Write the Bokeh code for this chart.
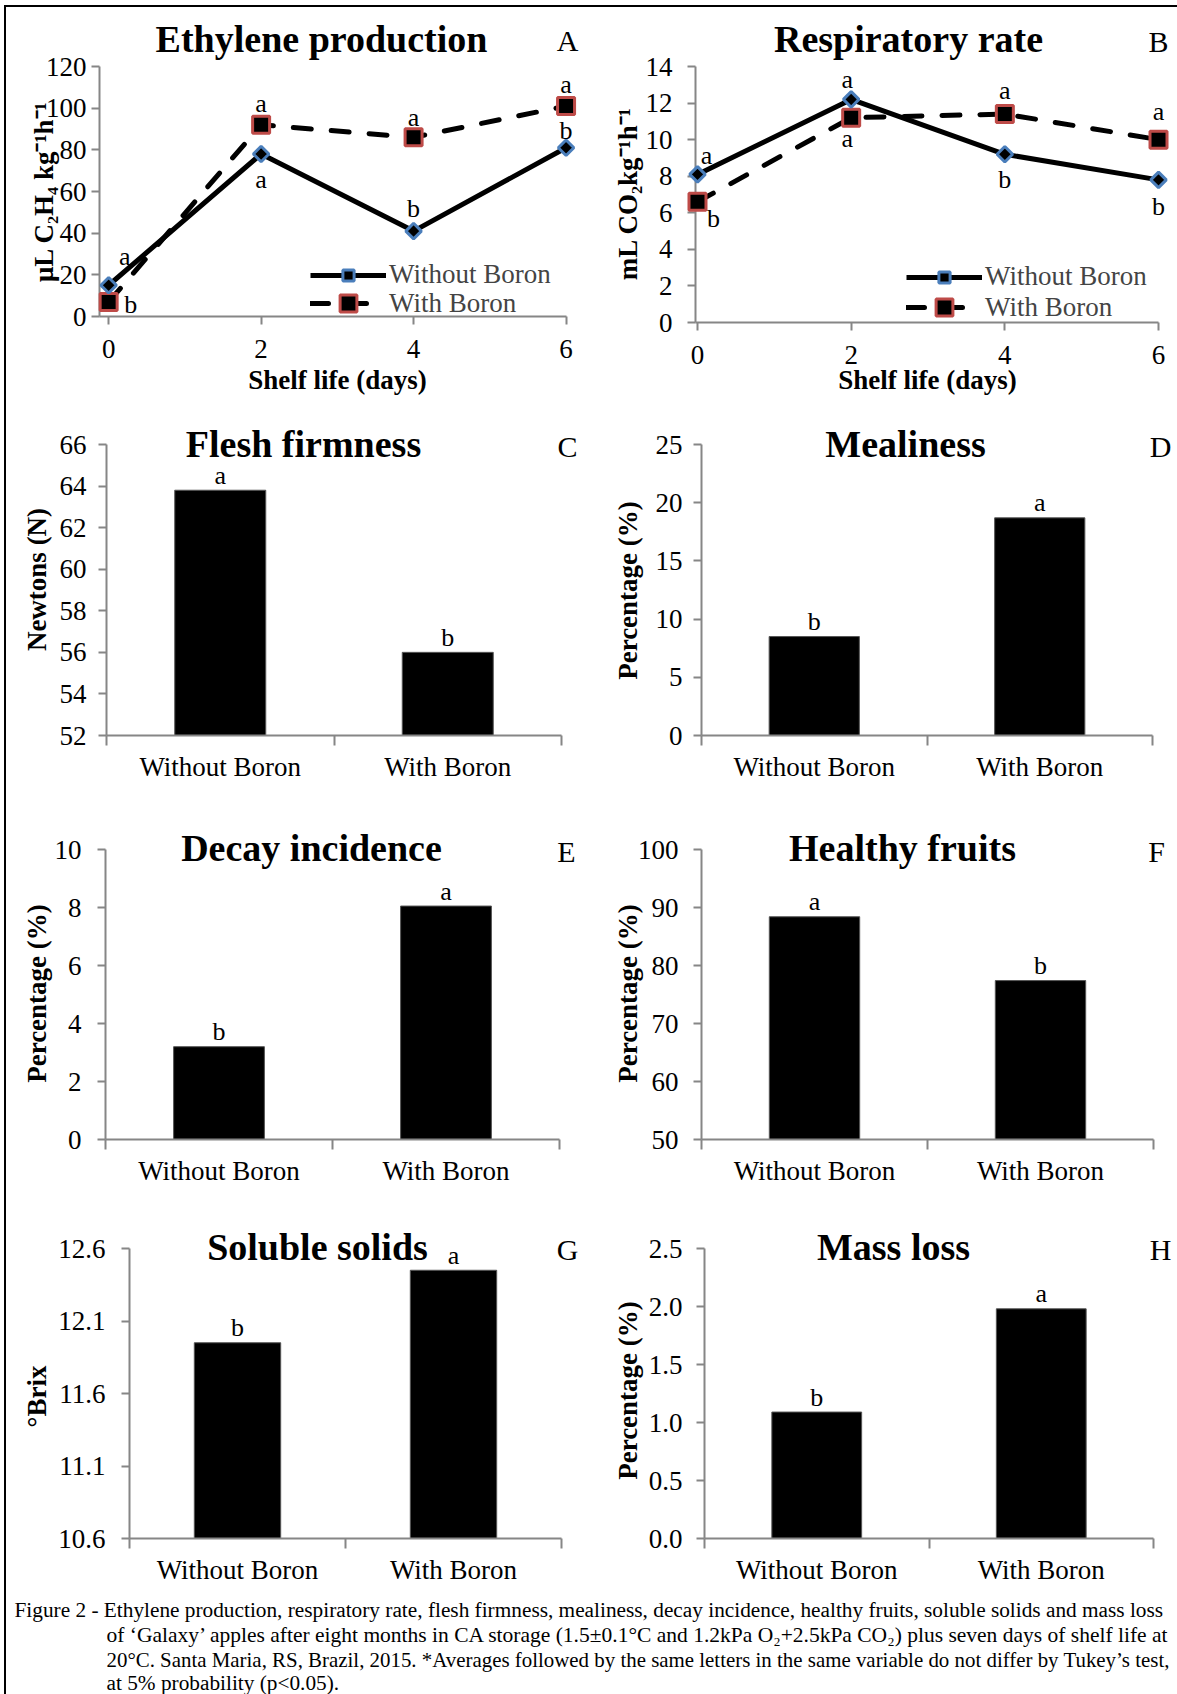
import math
from bokeh.plotting import figure
from bokeh.models import (Range1d, FixedTicker, Label, LabelSet, ColumnDataSource,
                          Legend, LegendItem, PrintfTickFormatter)
from bokeh.layouts import row, column
from bokeh.embed import file_html
from bokeh.resources import INLINE
from bokeh.core.properties import value

# ---------------- data ----------------
days = [0, 2, 4, 6]
day_ticks = [0, 2, 4, 6]
series_names = ["Without Boron", "With Boron"]

ethylene_without = [15, 78, 41, 81]
ethylene_with = [7, 92, 86, 101]
ethylene_sig_without = ["a", "a", "b", "b"]
ethylene_sig_with = ["b", "a", "a", "a"]
ethylene_ticks = [0, 20, 40, 60, 80, 100, 120]

resp_without = [8.1, 12.2, 9.2, 7.8]
resp_with = [6.6, 11.2, 11.4, 10.0]
resp_sig_without = ["a", "a", "b", "b"]
resp_sig_with = ["b", "a", "a", "a"]
resp_ticks = [0, 2, 4, 6, 8, 10, 12, 14]

treatments = ["Without Boron", "With Boron"]
firmness = [63.8, 56.0]
firmness_sig = ["a", "b"]
firmness_ticks = [52, 54, 56, 58, 60, 62, 64, 66]
mealiness = [8.5, 18.7]
mealiness_sig = ["b", "a"]
mealiness_ticks = [0, 5, 10, 15, 20, 25]
decay = [3.2, 8.05]
decay_sig = ["b", "a"]
decay_ticks = [0, 2, 4, 6, 8, 10]
healthy = [88.4, 77.4]
healthy_sig = ["a", "b"]
healthy_ticks = [50, 60, 70, 80, 90, 100]
soluble = [11.95, 12.45]
soluble_sig = ["b", "a"]
soluble_ticks = [10.6, 11.1, 11.6, 12.1, 12.6]
massloss = [1.09, 1.98]
massloss_sig = ["b", "a"]
massloss_ticks = [0.0, 0.5, 1.0, 1.5, 2.0, 2.5]

caption_lines = [
    "Figure 2 - Ethylene production, respiratory rate, flesh firmness, mealiness, decay incidence, healthy fruits, soluble solids and mass loss",
    "of \u2018Galaxy\u2019 apples after eight months in CA storage (1.5\u00b10.1\u00b0C and 1.2kPa O\u2082+2.5kPa CO\u2082) plus seven days of shelf life at",
    "20\u00b0C. Santa Maria, RS, Brazil, 2015. *Averages followed by the same letters in the same variable do not differ by Tukey\u2019s test,",
    "at 5% probability (p<0.05).",
]

# ---------------- style ----------------
SERIF = "Liberation Serif"
GRAY = "#868686"
BLUE = "#4a7ebb"
RED = "#be4b48"


def panel(box, frame, xr, yr, ystand):
    fx, fy, fw, fh = box
    L, R, T, B = frame
    p = figure(width=fw, height=fh, x_range=Range1d(*xr), y_range=Range1d(*yr),
               min_border_left=L - fx, min_border_right=fx + fw - R,
               min_border_top=T - fy, min_border_bottom=fy + fh - B,
               output_backend="svg", toolbar_location=None)
    try:
        p.frame_align = False
    except Exception:
        pass
    p.outline_line_color = None
    p.grid.visible = False
    p.background_fill_color = "white"
    p.border_fill_color = "white"
    for ax in (p.xaxis[0], p.yaxis[0]):
        ax.axis_line_color = GRAY
        ax.axis_line_width = 2
        ax.major_tick_line_color = GRAY
        ax.major_tick_line_width = 2
        ax.major_tick_in = 0
        ax.major_tick_out = 8
        ax.minor_tick_line_color = None
        ax.major_label_text_font = SERIF
        ax.major_label_text_font_size = "27px"
        ax.major_label_text_color = "black"
    p.yaxis.major_label_standoff = ystand

    def at(px, py):
        return (xr[0] + (px - L) / (R - L) * (xr[1] - xr[0]),
                yr[1] - (py - T) / (B - T) * (yr[1] - yr[0]))
    return p, at


def text(p, at, pos, s, size, bold=False, angle=0.0):
    x, y = at(*pos)
    p.text(x=[x], y=[y], text=[s], text_font=value(SERIF), text_font_size=value(f"{size}px"),
           text_font_style="bold" if bold else "normal",
           text_align="center", text_baseline="middle",
           angle=angle, text_color="black", level="overlay")


def decorate(p, at, title, title_pos, letter, letter_pos, ylabel, ylabel_pos):
    text(p, at, title_pos, title, 38, bold=True)
    text(p, at, letter_pos, letter, 30)
    text(p, at, ylabel_pos, ylabel, 27, bold=True, angle=math.pi / 2)


def one_legend(p, label, renderers, loc, gh):
    p.add_layout(Legend(items=[LegendItem(label=label, renderers=renderers)],
                        location=loc, orientation="vertical",
                        glyph_width=76, glyph_height=gh, label_height=gh,
                        label_standoff=3, spacing=0, padding=0, margin=0,
                        border_line_color=None, background_fill_alpha=0,
                        label_text_font=SERIF, label_text_font_size="27px",
                        label_text_baseline="middle", level="overlay"))


def line_panel(box, frame, xr, yr, ystand, yticks, w_vals, b_vals, w_sig, b_sig,
               w_off, b_off, leg_locs, title, title_pos, letter, letter_pos,
               ylabel, ylabel_pos, xlabel_pos):
    p, at = panel(box, frame, xr, yr, ystand)
    p.xaxis.ticker = FixedTicker(ticks=day_ticks)
    p.xaxis.bounds = (xr[0], day_ticks[-1])
    p.xaxis.major_label_standoff = 15
    p.yaxis.ticker = FixedTicker(ticks=yticks)

    l2 = p.line(days, b_vals, line_color="black", line_width=5, line_dash="18 20",
                line_cap="round", level="overlay")
    l1 = p.line(days, w_vals, line_color="black", line_width=5, level="overlay")
    m2 = p.scatter(days, b_vals, marker="square", size=17, fill_color="black",
                   line_color=RED, line_width=3, level="overlay")
    m1 = p.scatter(days, w_vals, marker="square", angle=math.pi / 4, size=11,
                   fill_color="black", line_color=BLUE, line_width=3, level="overlay")

    one_legend(p, series_names[0], [l1, m1], leg_locs[0], 28)
    one_legend(p, series_names[1], [l2, m2], leg_locs[1], 42)

    src = ColumnDataSource(dict(x=days + days, y=w_vals + b_vals, t=w_sig + b_sig,
                                dx=[o[0] for o in w_off + b_off],
                                dy=[o[1] for o in w_off + b_off]))
    p.add_layout(LabelSet(x="x", y="y", text="t", x_offset="dx", y_offset="dy",
                          source=src, text_font=value(SERIF), text_font_size=value("26px"),
                          text_align="center", text_baseline="middle", text_color="black",
                          level="overlay"))
    decorate(p, at, title, title_pos, letter, letter_pos, ylabel, ylabel_pos)
    text(p, at, xlabel_pos, "Shelf life (days)", 27, bold=True)
    return p


def bar_panel(box, frame, yr, ystand, yticks, vals, sig, title, title_pos, letter,
              letter_pos, ylabel, ylabel_pos, fmt=None):
    n = len(treatments)
    p, at = panel(box, frame, (0, n), yr, ystand)
    xs = [i + 0.5 for i in range(n)]
    p.vbar(x=xs, top=vals, bottom=yr[0], width=0.4, fill_color="black",
           line_color="#555555", line_width=1)
    p.xaxis.ticker = FixedTicker(ticks=xs, minor_ticks=list(range(n + 1)))
    p.xaxis.major_label_overrides = {x: t for x, t in zip(xs, treatments)}
    p.xaxis.major_tick_out = 0
    p.xaxis.major_tick_line_color = None
    p.xaxis.minor_tick_line_color = GRAY
    p.xaxis.minor_tick_line_width = 2
    p.xaxis.minor_tick_out = 10
    p.xaxis.minor_tick_in = 0
    p.xaxis.major_label_standoff = 6
    p.yaxis.ticker = FixedTicker(ticks=yticks)
    if fmt:
        p.yaxis.formatter = PrintfTickFormatter(format=fmt)
    src = ColumnDataSource(dict(x=xs, y=vals, t=sig))
    p.add_layout(LabelSet(x="x", y="y", text="t", y_offset=15, source=src,
                          text_font=value(SERIF), text_font_size=value("26px"),
                          text_align="center", text_baseline="middle", text_color="black",
                          level="overlay"))
    decorate(p, at, title, title_pos, letter, letter_pos, ylabel, ylabel_pos)
    return p


pA = line_panel((6, 7, 584, 393), (99, 577, 66, 316), (-0.12, 6.15), (0, 120), 5,
                ethylene_ticks, ethylene_without, ethylene_with,
                ethylene_sig_without, ethylene_sig_with,
                [(16, 29), (0, -25), (0, 23), (0, 17)],
                [(22, -3), (0, 21), (0, 20), (0, 22)],
                [(211, 26), (211, -8)], "Ethylene production", (321, 38), "A", (567, 40),
                "\u03bcL C\u2082H\u2084 kg\u207b\u00b9h\u207b\u00b9", (43, 191), (337, 379))

pB = line_panel((590, 7, 587, 393), (695, 1169, 66, 322), (-0.026, 6.143), (0, 14), 15,
                resp_ticks, resp_without, resp_with,
                resp_sig_without, resp_sig_with,
                [(9, 19), (-4, 20), (0, -25), (0, -27)],
                [(16, -17), (-4, -21), (0, 24), (0, 28)],
                [(211, 30), (211, -6)], "Respiratory rate", (908, 38), "B", (1158, 41),
                "mL CO\u2082kg\u207b\u00b9h\u207b\u00b9", (627, 193), (927, 379))

pC = bar_panel((6, 400, 584, 400), (106, 561, 444, 735), (52, 66), 12, firmness_ticks,
               firmness, firmness_sig, "Flesh firmness", (303, 443), "C", (567, 446),
               "Newtons (N)", (36, 579))
pD = bar_panel((590, 400, 587, 400), (701, 1152, 444, 735), (0, 25), 11, mealiness_ticks,
               mealiness, mealiness_sig, "Mealiness", (905, 443), "D", (1160, 446),
               "Percentage (%)", (627, 590))
pE = bar_panel((6, 800, 584, 400), (105, 559, 849, 1139), (0, 10), 16, decay_ticks,
               decay, decay_sig, "Decay incidence", (311, 847), "E", (566, 851),
               "Percentage (%)", (36, 993))
pF = bar_panel((590, 800, 587, 400), (701, 1153, 849, 1139), (50, 100), 15, healthy_ticks,
               healthy, healthy_sig, "Healthy fruits", (902, 847), "F", (1156, 851),
               "Percentage (%)", (627, 993))
pG = bar_panel((6, 1200, 584, 392), (129, 561, 1248, 1538), (10.6, 12.6), 16, soluble_ticks,
               soluble, soluble_sig, "Soluble solids", (317, 1246), "G", (567, 1249),
               "\u00b0Brix", (36, 1396), fmt="%.1f")
pH = bar_panel((590, 1200, 587, 392), (704, 1153, 1248, 1538), (0, 2.5), 14, massloss_ticks,
               massloss, massloss_sig, "Mass loss", (893, 1246), "H", (1160, 1249),
               "Percentage (%)", (627, 1390), fmt="%.1f")

# caption
cap = figure(width=1171, height=102, x_range=Range1d(0, 1171), y_range=Range1d(102, 0),
             min_border=0, output_backend="svg", toolbar_location=None,
             x_axis_type=None, y_axis_type=None)
cap.outline_line_color = None
cap.background_fill_color = "white"
cap.border_fill_color = "white"
cap_x = [8, 100, 100, 100]
cap_y = [17, 42, 67, 90]
cap_size = ["21.3px", "21.5px", "20.9px", "21.3px"]
for s, cx, cy, fs in zip(caption_lines, cap_x, cap_y, cap_size):
    cap.add_layout(Label(x=cx, y=cy, text=s, text_font=SERIF, text_font_size=fs,
                         text_align="left", text_baseline="middle", text_color="black",
                         level="overlay"))

layout = column(row(pA, pB), row(pC, pD), row(pE, pF), row(pG, pH), cap,
                styles={"border-left": "2px solid black", "border-top": "2px solid black",
                        "margin-left": "4px", "margin-top": "5px"})

open("out.html", "w").write(file_html(layout, INLINE))
